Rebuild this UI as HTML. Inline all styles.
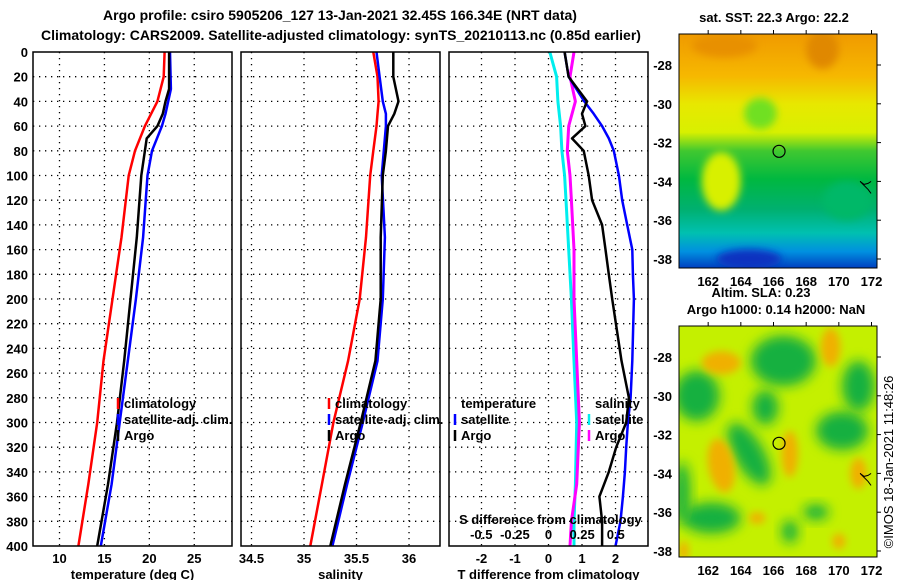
<!DOCTYPE html>
<html><head><meta charset="utf-8"><style>
body{margin:0;background:#fff;}
svg{display:block;font-family:"Liberation Sans",Arial,sans-serif;font-weight:bold;}
</style></head><body>
<svg id="c" width="900" height="580" viewBox="0 0 900 580">
<defs>
<filter id="bl" x="-50%" y="-50%" width="200%" height="200%"><feGaussianBlur stdDeviation="6"/></filter>
<filter id="bl2" x="-50%" y="-50%" width="200%" height="200%"><feGaussianBlur stdDeviation="4"/></filter>
<clipPath id="m1c"><rect x="679" y="34" width="198" height="234"/></clipPath>
<clipPath id="m2c"><rect x="679" y="326" width="198" height="231"/></clipPath>
<linearGradient id="sstg" x1="0" y1="0" x2="0" y2="1">
<stop offset="0" stop-color="#f09a00"/><stop offset="0.18" stop-color="#f6b800"/>
<stop offset="0.3" stop-color="#e8e800"/><stop offset="0.42" stop-color="#d8f000"/>
<stop offset="0.5" stop-color="#40c830"/><stop offset="0.62" stop-color="#00b840"/>
<stop offset="0.75" stop-color="#00b070"/><stop offset="0.85" stop-color="#00c0b0"/>
<stop offset="0.93" stop-color="#0090e0"/><stop offset="1" stop-color="#0040c0"/>
</linearGradient>
</defs>
<text x="340" y="20" text-anchor="middle" font-size="14">Argo profile: csiro 5905206_127 13-Jan-2021 32.45S 166.34E (NRT data)</text>
<text x="341" y="40" text-anchor="middle" font-size="14">Climatology: CARS2009. Satellite-adjusted climatology: synTS_20210113.nc (0.85d earlier)</text>
<g id="plots"></g>
<g id="maps"></g>
</svg>
<script>
// ---- data ----
const depths = [0,20,40,60,80,100,150,200,250,300,350,400];
const tempClim = [21.7,21.6,20.9,19.5,18.4,17.7,16.9,15.9,14.9,14.2,13.2,12.1];
const argoDepths = [0,30,40,50,60,65,70,80,100,150,200,250,300,350,400];
const tempArgo = [22.2,22.2,21.8,21.5,20.9,20.3,19.7,19.5,19.1,18.6,17.9,17.2,16.4,15.4,14.2];
const satDepths = [0,30,50,60,80,100,150,200,250,300,350,400];
const tempSat = [22.3,22.4,21.8,21.4,20.3,19.8,19.3,18.5,17.6,16.7,15.8,14.6];
const salDepths = [0,20,40,50,60,80,100,150,200,250,300,350,400];
const salClim = [35.66,35.70,35.71,35.70,35.69,35.66,35.63,35.59,35.53,35.42,35.28,35.17,35.06];
const salArgo = [35.85,35.85,35.90,35.86,35.80,35.78,35.75,35.73,35.73,35.68,35.54,35.39,35.25];
const salSat = [35.69,35.72,35.75,35.78,35.78,35.76,35.74,35.77,35.75,35.70,35.56,35.41,35.27];
const tdDepths = [0,20,40,50,60,70,80,100,120,140,160,180,200,250,280,300,320,340,360,380,400];
const tdiffSat = [0.48,0.6,1.07,1.35,1.6,1.8,1.95,2.1,2.2,2.35,2.5,2.52,2.55,2.5,2.45,2.37,2.32,2.28,2.22,2.15,2.0];
const tdiffArgo = [0.48,0.6,1.15,1.0,1.1,0.7,1.05,1.2,1.3,1.6,1.7,1.8,1.9,2.18,2.4,2.32,2.02,1.8,1.52,1.6,1.6];
const sdDepths = [0,20,40,60,80,100,120,160,200,250,300,350,380,400];
const sdiffSat = [0.01,0.06,0.07,0.09,0.1,0.12,0.13,0.15,0.17,0.19,0.21,0.2,0.19,0.19];
const sdiffArgo = [0.19,0.16,0.2,0.15,0.14,0.16,0.17,0.19,0.19,0.21,0.23,0.21,0.17,0.16];
const depthTicks = [0,20,40,60,80,100,120,140,160,180,200,220,240,260,280,300,320,340,360,380,400];
const tempTicks = [10,15,20,25];
const salTicks = [34.5,35,35.5,36];
const salTickLabels = ["34.5","35","35.5","36"];
const tdTicks = [-2,-1,0,1,2];
const sdTicks = [-0.5,-0.25,0,0.25,0.5];
const sdTickLabels = ["-0.5","-0.25","0","0.25","0.5"];
const lonTicks = [162,164,166,168,170,172];
const latTicks = [-28,-30,-32,-34,-36,-38];
const argoPos = [166.34,-32.45];

const NS='http://www.w3.org/2000/svg';
function mk(tag,attrs,parent,txt){const e=document.createElementNS(NS,tag);for(const k in attrs)e.setAttribute(k,attrs[k]);if(txt!==undefined)e.textContent=txt;parent.appendChild(e);return e;}
const Y0=52,Y1=546;
const yD=d=>Y0+(d/400)*(Y1-Y0);
const plots=document.getElementById('plots');
function lin(d0,d1,r0,r1){return v=>r0+(v-d0)/(d1-d0)*(r1-r0);}
const panels=[
 {x0:33,x1:232,sc:lin(7.05,29.2,33,232),ticks:tempTicks,labels:tempTicks.map(String),title:"temperature (deg C)",name:"temperature"},
 {x0:241,x1:440,sc:lin(34.4,36.295,241,440),ticks:salTicks,labels:salTickLabels,title:"salinity",name:"salinity"},
 {x0:449,x1:648,sc:lin(-2.97,2.97,449,648),ticks:tdTicks,labels:tdTicks.map(String),title:"T difference from climatology",name:"difference"}
];
function line(ds,vs,sc,color,w,name,g){
  let p='';ds.forEach((d,i)=>{p+=(i?'L':'M')+sc(vs[i]).toFixed(1)+' '+yD(d).toFixed(1);});
  const e=mk('path',{d:p,fill:'none',stroke:color,'stroke-width':w,'stroke-linejoin':'round'},g);
  
  
}
panels.forEach((P,pi)=>{
  const g=mk('g',{},plots);
  
  
  depthTicks.forEach(d=>{ if(d>0&&d<400) mk('line',{x1:P.x0,x2:P.x1,y1:yD(d),y2:yD(d),stroke:'#000','stroke-width':1.3,'stroke-dasharray':'1.3,4.7'},g);});
  P.ticks.forEach((t,i)=>{const x=P.sc(t);
    mk('line',{x1:x,x2:x,y1:Y0,y2:Y1,stroke:'#000','stroke-width':1.3,'stroke-dasharray':'1.3,4.7'},g);
    const tl=mk('text',{x:x,y:563,'text-anchor':'middle','font-size':13},g,P.labels[i]);
    
    
  });
  const at=mk('text',{x:(P.x0+P.x1)/2,y:579,'text-anchor':'middle','font-size':13},g,P.title);
  
  
  if(pi===0){
    line(depths,tempClim,P.sc,'#f00',2.5,'temp-climatology-line',g);
    line(satDepths,tempSat,P.sc,'#00f',2.5,'temp-satellite-line',g);
    line(argoDepths,tempArgo,P.sc,'#000',2.5,'temp-argo-line',g);
  }else if(pi===1){
    line(salDepths,salClim,P.sc,'#f00',2.5,'sal-climatology-line',g);
    line(salDepths,salSat,P.sc,'#00f',2.5,'sal-satellite-line',g);
    line(salDepths,salArgo,P.sc,'#000',2.5,'sal-argo-line',g);
  }else{
    const ss=lin(-0.74,0.74,449,648);
    line(sdDepths,sdiffSat,ss,'#0ee',3,'sdiff-satellite-line',g);
    line(sdDepths,sdiffArgo,ss,'#f0f',3,'sdiff-argo-line',g);
    line(tdDepths,tdiffSat,P.sc,'#00f',2.5,'tdiff-satellite-line',g);
    line(tdDepths,tdiffArgo,P.sc,'#000',2.5,'tdiff-argo-line',g);
    const st=mk('text',{x:459,y:524,'font-size':13},g,'S difference from climatology');
    
    
    sdTicks.forEach((t,i)=>{const l=mk('text',{x:ss(t),y:539,'text-anchor':'middle','font-size':13},g,sdTickLabels[i]);
      
      });
  }
  const fr=mk('rect',{x:P.x0,y:Y0,width:P.x1-P.x0,height:Y1-Y0,fill:'none',stroke:'#000','stroke-width':1.5},g);
  
  
});
depthTicks.forEach(d=>{const t=mk('text',{x:28,y:yD(d)+5,'text-anchor':'end','font-size':13},plots,String(d));
  
  });
function legend(x,y,items){
  items.forEach((it,i)=>{const yy=y+i*16;
    if(it.c) mk('line',{x1:x,x2:x,y1:yy-10,y2:yy+1,stroke:it.c,'stroke-width':2.5},plots);
    const t=mk('text',{x:x+6,y:yy,'font-size':13},plots,it.t);
    
    
  });
}
legend(118,408,[{c:'#f00',t:'climatology'},{c:'#00f',t:'satellite-adj. clim.'},{c:'#000',t:'Argo'}]);
legend(329,408,[{c:'#f00',t:'climatology'},{c:'#00f',t:'satellite-adj. clim.'},{c:'#000',t:'Argo'}]);
legend(455,408,[{c:null,t:'temperature'},{c:'#00f',t:'satellite'},{c:'#000',t:'Argo'}]);
legend(589,408,[{c:null,t:'salinity'},{c:'#0ee',t:'satellite'},{c:'#f0f',t:'Argo'}]);

// ---- maps ----
const maps=document.getElementById('maps');
const lonX=lin(160,172,675.5,871.5);
function drawMap(top,clip,name,fillFn){
  const latY=lin(-28,-38,top+31,top+225);
  const g=mk('g',{},maps);
  
  
  const inner=mk('g',{'clip-path':'url(#'+clip+')'},g);
  fillFn(inner,latY);
  const H=clip==='m1c'?234:231;
  mk('rect',{x:679,y:top,width:198,height:H,fill:'none',stroke:'#000','stroke-width':1},g);
  mk('circle',{cx:lonX(argoPos[0]),cy:latY(argoPos[1]),r:6,fill:'none',stroke:'#000','stroke-width':1.2},g);
  mk('path',{d:`M${lonX(171.3)} ${latY(-34)} l4 3 l4 -1 l3 -2 M${lonX(171.3)} ${latY(-34)} l8 8 l3 4`,fill:'none',stroke:'#000','stroke-width':1},g);
  latTicks.forEach(l=>{const y=latY(l);
    mk('line',{x1:877,x2:881,y1:y,y2:y,stroke:'#000'},g);
    const t=mk('text',{x:672,y:y+5,'text-anchor':'end','font-size':13},g,String(l));
    
    });
  lonTicks.forEach(l=>{const x=lonX(l);
    mk('line',{x1:x,x2:x,y1:top-4,y2:top,stroke:'#000'},g);
    const t=mk('text',{x:x,y:top+H+18,'text-anchor':'middle','font-size':13},g,String(l));
    
    });
}
function blob(g,latY,lon,lat,rx,ry,c,f,rot){
  const cx=lonX(lon),cy=latY(lat);
  mk('ellipse',{cx:cx,cy:cy,rx:rx*16.3,ry:ry*19.4,fill:c,filter:'url(#'+(f||'bl')+')',transform:`rotate(${rot||0} ${cx} ${cy})`},g);
}
drawMap(34,'m1c','sst-map',(g,latY)=>{
  mk('rect',{x:679,y:34,width:198,height:234,fill:'url(#sstg)'},g);
  blob(g,latY,162.8,-34,1.2,1.5,'#d8f000','bl2');
  blob(g,latY,165.2,-30.5,1,0.8,'#70e020','bl2');
  blob(g,latY,169,-27.2,1,1,'#e08800','bl2');
  blob(g,latY,163,-27,2,0.6,'#e89000','bl2');
  blob(g,latY,170.5,-35,1.5,1,'#00b868','bl2');
  blob(g,latY,164.5,-38,2,0.5,'#1030c0','bl2');
});
drawMap(326,'m2c','sla-map',(g,latY)=>{
  mk('rect',{x:679,y:326,width:198,height:231,fill:'#c4f000'},g);
  const gr='#18b040';
  [[161.3,-30,1.4,1.3,0],[166.6,-28.2,2,1.3,0],[165.5,-30.6,0.8,0.9,0],[164.5,-33,0.9,1.8,-30],[170.2,-31.8,1.6,1,0],[171.2,-29.5,1,1.3,0],[162.2,-36.3,1.8,0.8,0],[167,-37,0.5,0.6,0],[160.4,-35,0.5,1.6,0],[168.6,-36,0.8,0.4,0]].forEach(b=>blob(g,latY,b[0],b[1],b[2],b[3],gr,'bl',b[4]));
  [[162.8,-28.3,1.2,0.6,0],[162.8,-33.6,0.8,1.4,-10],[169.5,-27.5,0.6,1,0],[167,-33,0.5,1.2,0],[170,-37.5,0.4,0.4,0],[160.5,-38,0.3,0.5,0],[171.2,-34,0.5,0.8,0],[165,-36.3,0.5,0.3,0]].forEach(b=>blob(g,latY,b[0],b[1],b[2],b[3],'#f0b000','bl2',b[4]));
});
const t1=mk('text',{x:774,y:22,'text-anchor':'middle','font-size':13},maps,'sat. SST: 22.3 Argo: 22.2');


const t2=mk('text',{x:761,y:297,'text-anchor':'middle','font-size':13},maps,'Altim. SLA: 0.23');


const t3=mk('text',{x:776,y:314,'text-anchor':'middle','font-size':13},maps,'Argo h1000: 0.14 h2000: NaN');


const t4=mk('text',{x:0,y:0,'text-anchor':'middle','font-size':13,'font-weight':'normal',transform:'translate(893,462) rotate(-90)'},maps,'©IMOS 18-Jan-2021 11:48:26');


</script>
</body></html>
